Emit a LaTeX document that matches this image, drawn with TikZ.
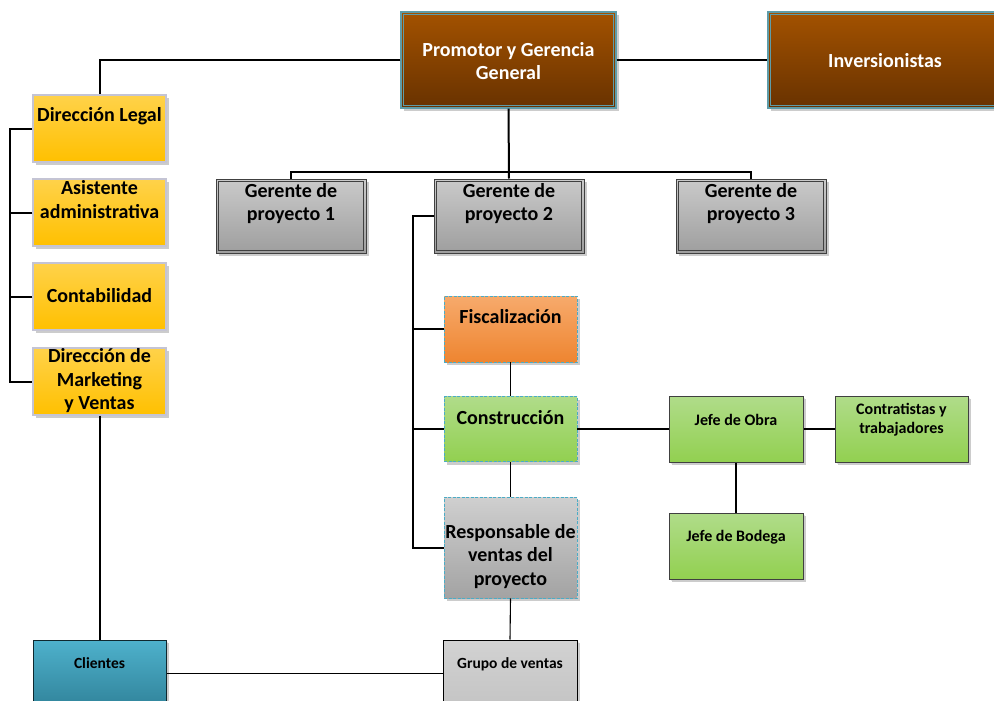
\documentclass[tikz,border=0pt]{standalone}
\usepackage{fontspec}
\setmainfont{Carlito}
\usetikzlibrary{shadows}
\definecolor{brownT}{HTML}{A35200}
\definecolor{brownB}{HTML}{683200}
\definecolor{brownEdge}{HTML}{5E9CA8}
\definecolor{yelT}{HTML}{FFD24A}
\definecolor{yelB}{HTML}{FFC000}
\definecolor{yelEdge}{HTML}{C4C4D4}
\definecolor{grayT}{HTML}{CACACA}
\definecolor{grayB}{HTML}{9E9E9E}
\definecolor{orT}{HTML}{F7AA6C}
\definecolor{orB}{HTML}{EE8530}
\definecolor{grT}{HTML}{B0DC8A}
\definecolor{grB}{HTML}{92D050}
\definecolor{dashEdge}{HTML}{4BACC6}
\definecolor{cyT}{HTML}{4EB1CC}
\definecolor{cyB}{HTML}{31849B}
\definecolor{lgT}{HTML}{D2D2D2}
\definecolor{lgB}{HTML}{C4C4C4}
\tikzset{
  every node/.style={inner sep=0pt},
  base/.style={rectangle, inner sep=0pt, drop shadow={shadow xshift=3pt, shadow yshift=-3pt, fill=black!40}},
  brownbox/.style={base, top color=brownT, bottom color=brownB, draw=brownEdge, line width=1.2pt, minimum width=215pt, minimum height=96pt},
  yelbox/.style={base, top color=yelT, bottom color=yelB, draw=yelEdge, line width=1.2pt, minimum width=133pt, minimum height=67pt},
  gerbox/.style={base, top color=grayT, bottom color=grayB, draw=black!75, line width=1pt, minimum width=150pt, minimum height=74pt},
  dashbox/.style={base, draw=dashEdge, line width=0.8pt, dash pattern=on 3pt off 1.5pt, minimum width=133pt},
  greenbox/.style={base, drop shadow={shadow xshift=2pt, shadow yshift=-2pt, fill=black!20}, top color=grT, bottom color=grB, draw=black!75, line width=1pt, minimum width=134pt, minimum height=66pt},
  inner/.style={line width=0.8pt},
  conn/.style={line width=2pt, black},
  thin/.style={line width=1.1pt, black},
  big/.style={font=\bfseries\fontsize{20}{23.5}\selectfont, align=center},
  small/.style={font=\bfseries\fontsize{16}{19}\selectfont, align=center},
  tiny/.style={font=\bfseries\fontsize{15.5}{18}\selectfont, align=center},
}
\begin{document}
\begin{tikzpicture}[x=1pt,y=-1pt]
\useasboundingbox (0,0) rectangle (994,701);
\clip (0,0) rectangle (994,701);
% boxes
\node[brownbox] (prom) at (508.5,60) {};
\node[brownbox, minimum width=232pt] (inv) at (884,60) {};
\draw[inner, brownEdge] ([shift={(3,3)}]prom.north west) rectangle ([shift={(-3,-3)}]prom.south east);
\draw[inner, brownEdge] ([shift={(3,3)}]inv.north west) rectangle ([shift={(-3,-3)}]inv.south east);

\node[yelbox] (dlegal) at (99.5,128.5) {};
\node[yelbox] (asis) at (99.5,212.5) {};
\node[yelbox] (cont) at (99.5,296.5) {};
\node[yelbox] (dmkt) at (99.5,381.5) {};

\node[gerbox] (g1) at (291,216) {};
\node[gerbox] (g2) at (509,216) {};
\node[gerbox] (g3) at (751,216) {};
\foreach \g in {g1,g2,g3}{
  \draw[inner, black!75] ([shift={(3,3)}]\g.north west) rectangle ([shift={(-3,-3)}]\g.south east);
}

\node[dashbox, top color=orT, bottom color=orB, minimum height=66pt] (fisc) at (510.5,329) {};
\node[dashbox, top color=grT, bottom color=grB, minimum height=65pt] (cons) at (510.5,429) {};
\node[dashbox, top color=grayT!90, bottom color=grayB!95, minimum height=101pt] (resp) at (510.5,547.5) {};

\node[greenbox] (jobra) at (736,429) {};
\node[greenbox, minimum width=133pt] (contr) at (901.5,429) {};
\node[greenbox] (bodega) at (736,546) {};

\node[base, drop shadow={shadow xshift=2pt, shadow yshift=-2pt, fill=black!20}, top color=cyT, bottom color=cyB, draw=black!70!cyB, line width=1pt, minimum width=133pt, minimum height=67pt] (cli) at (99.5,673.5) {};
\node[base, drop shadow={shadow xshift=2pt, shadow yshift=-2pt, fill=black!15}, top color=lgT, bottom color=lgB, draw=black, line width=1pt, minimum width=134pt, minimum height=67pt] (grupo) at (510,673.5) {};

% texts
\node[big, text=white] (tprom) at (508.5,61) {Promotor y Gerencia\\General};
\node[big, text=white] (tinv) at (885,61) {Inversionistas};
\node[big] (tdl) at (99.5,116) {Dirección Legal};
\node[big] (tas) at (99.5,199.5) {Asistente\\administrativa};
\node[big] (tco) at (99.5,295.5) {Contabilidad};
\node[big] (tdm) at (99.5,381) {Dirección de\\Marketing\\y Ventas};
\node[big] (tg1) at (291,203.5) {Gerente de\\proyecto 1};
\node[big] (tg2) at (509,203.5) {Gerente de\\proyecto 2};
\node[big] (tg3) at (751,203.5) {Gerente de\\proyecto 3};
\node[big] (tfi) at (510.5,317) {Fiscalización};
\node[big] (tcs) at (510.5,418) {Construcción};
\node[big] (tre) at (510.5,556.5) {Responsable de\\ventas del\\proyecto};
\node[small] (tjo) at (736,420) {Jefe de Obra};
\node[small] (tct) at (901.5,419.5) {Contratistas y\\trabajadores};
\node[small] (tjb) at (736,537) {Jefe de Bodega};
\node[tiny] (tcl) at (99.5,663) {Clientes};
\node[tiny] (tgv) at (510,664) {Grupo de ventas};

% connectors
\draw[conn] (prom.west) -| (dlegal.north);
\draw[conn] (prom.east) -- (inv.west);
\coordinate (gbus) at (509,172);
\draw[conn] (g1.north) |- (gbus) -| (g3.north);
\draw[conn] (prom.south) -- (g2.north);
\draw[conn] (dlegal.west) -- ++(-22,0) |- (dmkt.west);
\draw[conn] (asis.west) -- ++(-22,0);
\draw[conn] (cont.west) -- ++(-22,0);
\draw[conn] (dmkt.south) -- (cli.north);
\draw[line width=1.5pt] (cli.east) -- (grupo.west);
\draw[conn] (g2.west) -- ++(-21,0) |- (resp.west);
\draw[conn] (fisc.west) -- ++(-31,0);
\draw[conn] (cons.west) -- ++(-31,0);
\draw[thin] (fisc.south) -- (cons.north);
\draw[thin] (cons.south) -- (resp.north);
\draw[thin] (resp.south) -- (grupo.north);
\draw[conn] (cons.east) -- (jobra.west);
\draw[thin] (jobra.east) -- (contr.west);
\draw[thin] (jobra.south) -- (bodega.north);
\end{tikzpicture}
\end{document}
